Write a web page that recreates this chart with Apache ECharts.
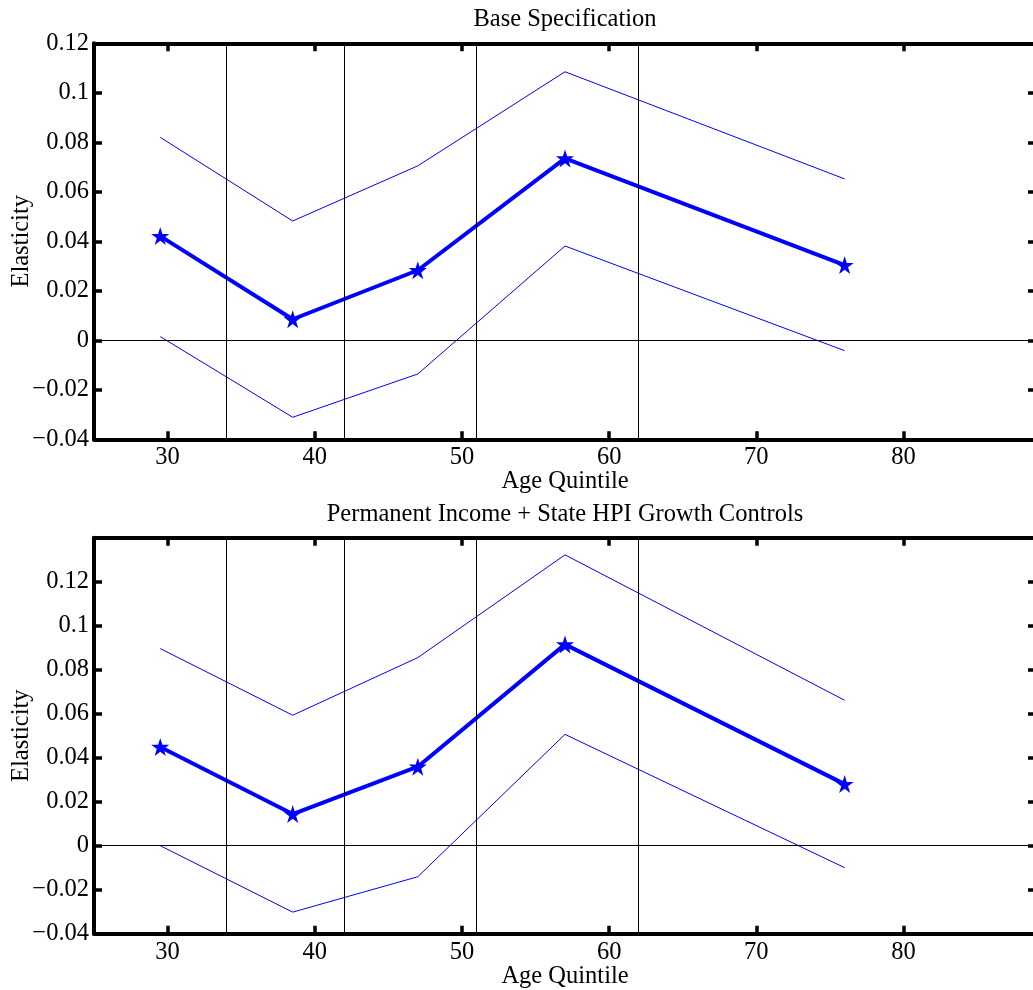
<!DOCTYPE html>
<html>
<head>
<meta charset="utf-8">
<script src="https://cdn.jsdelivr.net/npm/echarts@6/dist/echarts.min.js"></script>
<style>
  html, body { margin: 0; padding: 0; background: #fff; }
  #chart { width: 1033px; height: 990px; }
</style>
</head>
<body>
<div id="chart"></div>
<script>
// ---- Data ----
const ages = [29.5, 38.5, 47, 57, 76];
const quintileBounds = [34, 42, 51, 62];
const xTicks = [30, 40, 50, 60, 70, 80];
const panelTitles = ['Base Specification', 'Permanent Income + State HPI Growth Controls'];
const xLabel = 'Age Quintile';
const yLabel = 'Elasticity';

const baseEst   = [0.0421, 0.0085, 0.0283, 0.0735, 0.0304];
const baseUpper = [0.0820, 0.0482, 0.0705, 0.1085, 0.0652];
const baseLower = [0.0015, -0.0311, -0.0136, 0.0381, -0.0042];

const ctrlEst   = [0.0449, 0.0144, 0.0359, 0.0915, 0.0280];
const ctrlUpper = [0.0896, 0.0593, 0.0855, 0.1322, 0.0661];
const ctrlLower = [0.0000, -0.0302, -0.0141, 0.0506, -0.0100];

const yRanges = [[-0.04, 0.12], [-0.04, 0.14]];
const yStep = 0.02;
const xRange = [25, 89];

// ---- Styling ----
const FONT = 'Liberation Serif';
const FS = 24.5;
const BLUE = '#0000ff';
const AXW = 4;
const STAR = 'path://M50,0 L61.2,34.5 L97.6,34.5 L68.2,55.9 L79.4,90.5 L50,69.1 L20.6,90.5 L31.8,55.9 L2.4,34.5 L38.8,34.5 Z';

const grids = [
  { left: 94, top: 43.3, width: 942, height: 396, outerBoundsMode: 'none', containLabel: false },
  { left: 94, top: 537.7, width: 942, height: 396, outerBoundsMode: 'none', containLabel: false }
];

function fmtY(v) {
  if (v > 0.1305) return '';
  const s = String(Math.round(v * 100) / 100);
  return s.replace('-', '\u2212');
}

const xAxes = [];
const yAxes = [];
[0, 1].forEach(g => {
  xAxes.push({
    type: 'value', gridIndex: g, position: 'bottom',
    min: xRange[0], max: xRange[1],
    name: xLabel, nameLocation: 'middle', nameGap: 30, nameMoveOverlap: false,
    nameTextStyle: { fontFamily: FONT, fontSize: FS, color: '#000' },
    axisLine: { onZero: false, lineStyle: { color: '#000', width: AXW } },
    axisTick: { inside: true, length: 8, customValues: xTicks, lineStyle: { color: '#000', width: 3.5 } },
    axisLabel: { customValues: xTicks, margin: 6, fontFamily: FONT, fontSize: FS, color: '#000' },
    splitLine: { show: false }
  });
  xAxes.push({
    type: 'value', gridIndex: g, position: 'top',
    min: xRange[0], max: xRange[1],
    axisLine: { onZero: false, lineStyle: { color: '#000', width: AXW } },
    axisTick: { inside: true, length: 8, customValues: xTicks, lineStyle: { color: '#000', width: 3.5 } },
    axisLabel: { show: false },
    splitLine: { show: false }
  });
  yAxes.push({
    type: 'value', gridIndex: g, position: 'left',
    min: yRanges[g][0], max: yRanges[g][1], interval: yStep,
    name: yLabel, nameLocation: 'middle', nameGap: 60, nameMoveOverlap: false,
    nameTextStyle: { fontFamily: FONT, fontSize: FS, color: '#000' },
    axisLine: { onZero: false, lineStyle: { color: '#000', width: AXW } },
    axisTick: { inside: true, length: 8, lineStyle: { color: '#000', width: 3.5 } },
    axisLabel: { margin: 5, fontFamily: FONT, fontSize: FS, color: '#000', formatter: fmtY },
    splitLine: { show: false }
  });
  yAxes.push({
    type: 'value', gridIndex: g, position: 'right',
    min: yRanges[g][0], max: yRanges[g][1], interval: yStep,
    axisLine: { onZero: false, lineStyle: { color: '#000', width: AXW } },
    axisTick: { inside: true, length: 8, lineStyle: { color: '#000', width: 3.5 } },
    axisLabel: { show: false },
    splitLine: { show: false }
  });
});

const panels = [
  { est: baseEst, up: baseUpper, lo: baseLower },
  { est: ctrlEst, up: ctrlUpper, lo: ctrlLower }
];

const series = [];
panels.forEach((p, g) => {
  const xi = g * 2, yi = g * 2;
  const pts = arr => ages.map((a, i) => [a, arr[i]]);
  series.push({
    type: 'line', xAxisIndex: xi, yAxisIndex: yi, data: pts(p.lo),
    symbol: 'none', lineStyle: { color: BLUE, width: 1 }, z: 3,
    markLine: {
      silent: true, symbol: 'none', label: { show: false },
      lineStyle: { color: '#000', width: 1, type: 'solid' },
      data: quintileBounds.map(v => ({ xAxis: v })).concat([{ yAxis: 0 }])
    }
  });
  series.push({
    type: 'line', xAxisIndex: xi, yAxisIndex: yi, data: pts(p.up),
    symbol: 'none', lineStyle: { color: BLUE, width: 1 }, z: 3
  });
  series.push({
    type: 'line', xAxisIndex: xi, yAxisIndex: yi, data: pts(p.est),
    symbol: STAR, symbolSize: 18, showSymbol: true,
    itemStyle: { color: BLUE, borderWidth: 0 },
    lineStyle: { color: BLUE, width: 4 }, z: 4
  });
});

const chart = echarts.init(document.getElementById('chart'), null, { renderer: 'canvas' });
chart.setOption({
  animation: false,
  backgroundColor: '#fff',
  title: panelTitles.map((t, i) => ({
    text: t, left: 565, textAlign: 'center', top: i === 0 ? 7 : 502, padding: 0,
    textStyle: { fontFamily: FONT, fontSize: FS, fontWeight: 'normal', color: '#000' }
  })),
  grid: grids,
  xAxis: xAxes,
  yAxis: yAxes,
  series: series
});
</script>
</body>
</html>
